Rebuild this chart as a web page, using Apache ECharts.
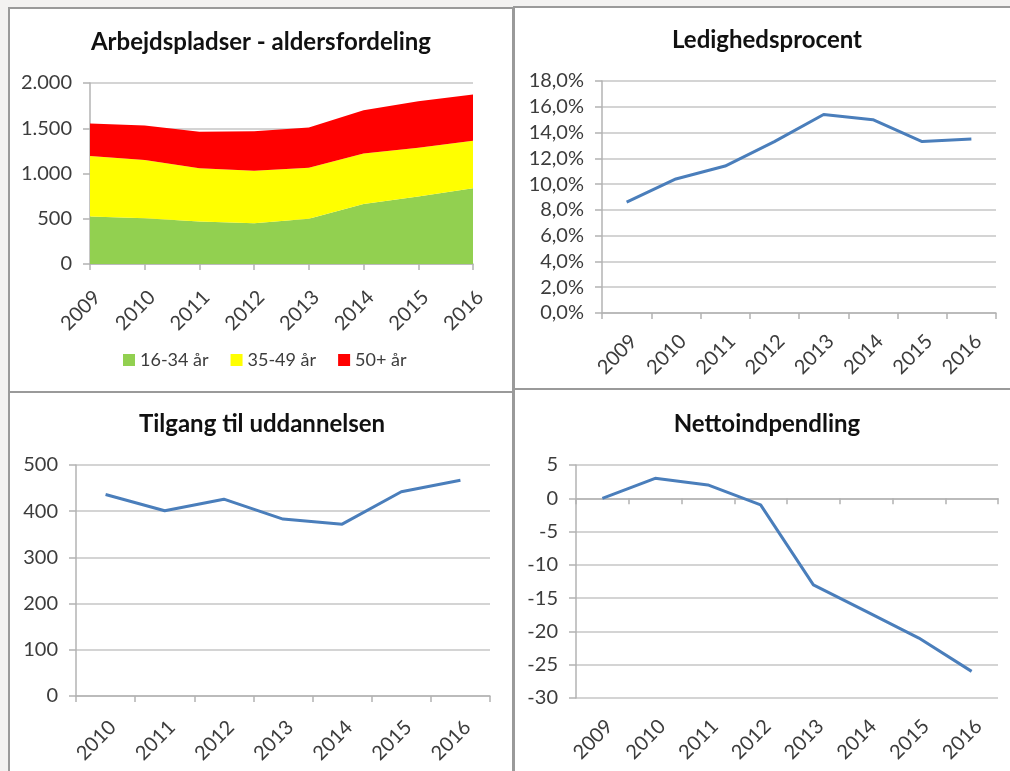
<!DOCTYPE html>
<html>
<head>
<meta charset="utf-8">
<script src="https://cdn.jsdelivr.net/npm/echarts@6/dist/echarts.min.js"></script>
<style>
  html, body { margin: 0; padding: 0; background: #f3f2f1; }
  #wrap { position: relative; width: 1010px; height: 771px; overflow: hidden; }
  .panel { position: absolute; background: #ffffff; border: 2px solid #9a9a9a; box-sizing: border-box; }
  #chart { position: absolute; left: 0; top: 0; width: 1010px; height: 771px; }
</style>
</head>
<body>
<div id="wrap">
  <div class="panel" style="left:8px;top:7px;width:506px;height:386px;"></div>
  <div class="panel" style="left:513px;top:6px;width:510px;height:384px;"></div>
  <div class="panel" style="left:8px;top:391px;width:506px;height:400px;"></div>
  <div class="panel" style="left:513px;top:388px;width:510px;height:400px;"></div>
  <div id="chart"></div>
</div>
<script>
// ---- Data ----
const years09 = ['2009', '2010', '2011', '2012', '2013', '2014', '2015', '2016'];
const years10 = ['2010', '2011', '2012', '2013', '2014', '2015', '2016'];

const age1634 = [525, 506, 470, 451, 499, 664, 745, 837];
const age3549 = [668, 643, 587, 580, 565, 558, 539, 524];
const age50 = [359, 381, 404, 437, 444, 477, 514, 511];

const ledighed = [8.6, 10.4, 11.4, 13.3, 15.4, 15.0, 13.3, 13.5];
const tilgang = [436, 401, 426, 383, 372, 442, 467];
const netto = [0, 3, 2, -1, -13, -17, -21, -26];

const titles = ['Arbejdspladser - aldersfordeling', 'Ledighedsprocent', 'Tilgang til uddannelsen', 'Nettoindpendling'];
const legendNames = ['16-34 år', '35-49 år', '50+ år'];

// ---- Styles ----
const FONT = 'Lato';
const LABEL_COLOR = '#3c3c3c';
const GRID_COLOR = '#c6c6c6';
const AXIS_COLOR = '#b3b3b3';
const LINE_COLOR = '#4a7ebb';
const LABEL_SIZE = 20;

function fmtThousands(v) {
  if (Math.abs(v) >= 1000) {
    const t = Math.floor(v / 1000);
    const r = String(v % 1000).padStart(3, '0');
    return t + '.' + r;
  }
  return String(v);
}
function fmtPct(v) { return v.toFixed(1).replace('.', ',') + '%'; }

function catAxis(gridIndex, data, boundaryGap, margin, extra) {
  return Object.assign({
    type: 'category', gridIndex: gridIndex, data: data, boundaryGap: boundaryGap, position: 'bottom',
    axisLine: { show: true, lineStyle: { color: AXIS_COLOR, width: 1.5 } },
    axisTick: { show: true, length: 6, alignWithLabel: !boundaryGap, lineStyle: { color: AXIS_COLOR, width: 1.5 } },
    axisLabel: { rotate: 45, verticalAlign: 'top', fontFamily: FONT, fontSize: LABEL_SIZE, color: LABEL_COLOR, margin: margin, interval: 0 },
    splitLine: { show: false }
  }, extra || {});
}
function valAxis(gridIndex, min, max, interval, formatter) {
  return {
    type: 'value', gridIndex: gridIndex, min: min, max: max, interval: interval,
    axisLine: { show: true, onZero: false, lineStyle: { color: AXIS_COLOR, width: 1.5 } },
    axisTick: { show: true, length: 7, lineStyle: { color: AXIS_COLOR, width: 1.5 } },
    axisLabel: { fontFamily: FONT, fontSize: LABEL_SIZE, color: LABEL_COLOR, margin: 18, formatter: formatter },
    splitLine: { show: true, lineStyle: { color: GRID_COLOR, width: 1.5 } }
  };
}

const titleCenters = [[261, 30], [767, 28], [262, 412], [767, 412]];

const option = {
  backgroundColor: 'transparent',
  animation: false,
  title: titles.map((t, i) => ({
    text: t, left: titleCenters[i][0], top: titleCenters[i][1], textAlign: 'center', padding: 0,
    textStyle: { fontFamily: FONT, fontSize: 24, fontWeight: 'bold', color: '#111111' }
  })),
  legend: {
    data: legendNames, left: 118, top: 346, icon: 'rect', itemWidth: 12, itemHeight: 12, itemGap: 22,
    textStyle: { fontFamily: FONT, fontSize: 18, color: LABEL_COLOR }
  },
  grid: [
    { left: 90, top: 83, width: 383, height: 181 },
    { left: 602, top: 81, width: 394, height: 232 },
    { left: 76, top: 465, width: 414, height: 231 },
    { left: 576, top: 465, width: 422, height: 233 }
  ],
  xAxis: [
    catAxis(0, years09, false, 23),
    catAxis(1, years09, true, 18),
    catAxis(2, years10, true, 21),
    catAxis(3, years09, true, 18, { axisLabel: { show: false }, axisLine: { show: true, onZero: true, lineStyle: { color: AXIS_COLOR, width: 1.5 } } }),
    catAxis(3, years09, true, 18, { axisLine: { show: false, onZero: false }, axisTick: { show: false } })
  ],
  yAxis: [
    valAxis(0, 0, 2000, 500, fmtThousands),
    valAxis(1, 0, 18, 2, fmtPct),
    valAxis(2, 0, 500, 100, fmtThousands),
    valAxis(3, -30, 5, 5, v => String(v))
  ],
  series: [
    { name: legendNames[0], type: 'line', xAxisIndex: 0, yAxisIndex: 0, stack: 'age', data: age1634,
      symbol: 'none', lineStyle: { width: 0 }, areaStyle: { color: '#92d050', opacity: 1 }, itemStyle: { color: '#92d050' } },
    { name: legendNames[1], type: 'line', xAxisIndex: 0, yAxisIndex: 0, stack: 'age', data: age3549,
      symbol: 'none', lineStyle: { width: 0 }, areaStyle: { color: '#ffff00', opacity: 1 }, itemStyle: { color: '#ffff00' } },
    { name: legendNames[2], type: 'line', xAxisIndex: 0, yAxisIndex: 0, stack: 'age', data: age50,
      symbol: 'none', lineStyle: { width: 0 }, areaStyle: { color: '#ff0000', opacity: 1 }, itemStyle: { color: '#ff0000' } },
    { name: titles[1], type: 'line', xAxisIndex: 1, yAxisIndex: 1, data: ledighed, symbol: 'none',
      lineStyle: { color: LINE_COLOR, width: 3 } },
    { name: titles[2], type: 'line', xAxisIndex: 2, yAxisIndex: 2, data: tilgang, symbol: 'none',
      lineStyle: { color: LINE_COLOR, width: 3 } },
    { name: titles[3], type: 'line', xAxisIndex: 3, yAxisIndex: 3, data: netto, symbol: 'none',
      lineStyle: { color: LINE_COLOR, width: 3 } }
  ]
};

const chart = echarts.init(document.getElementById('chart'), null, { renderer: 'canvas' });
chart.setOption(option);
</script>
</body>
</html>
